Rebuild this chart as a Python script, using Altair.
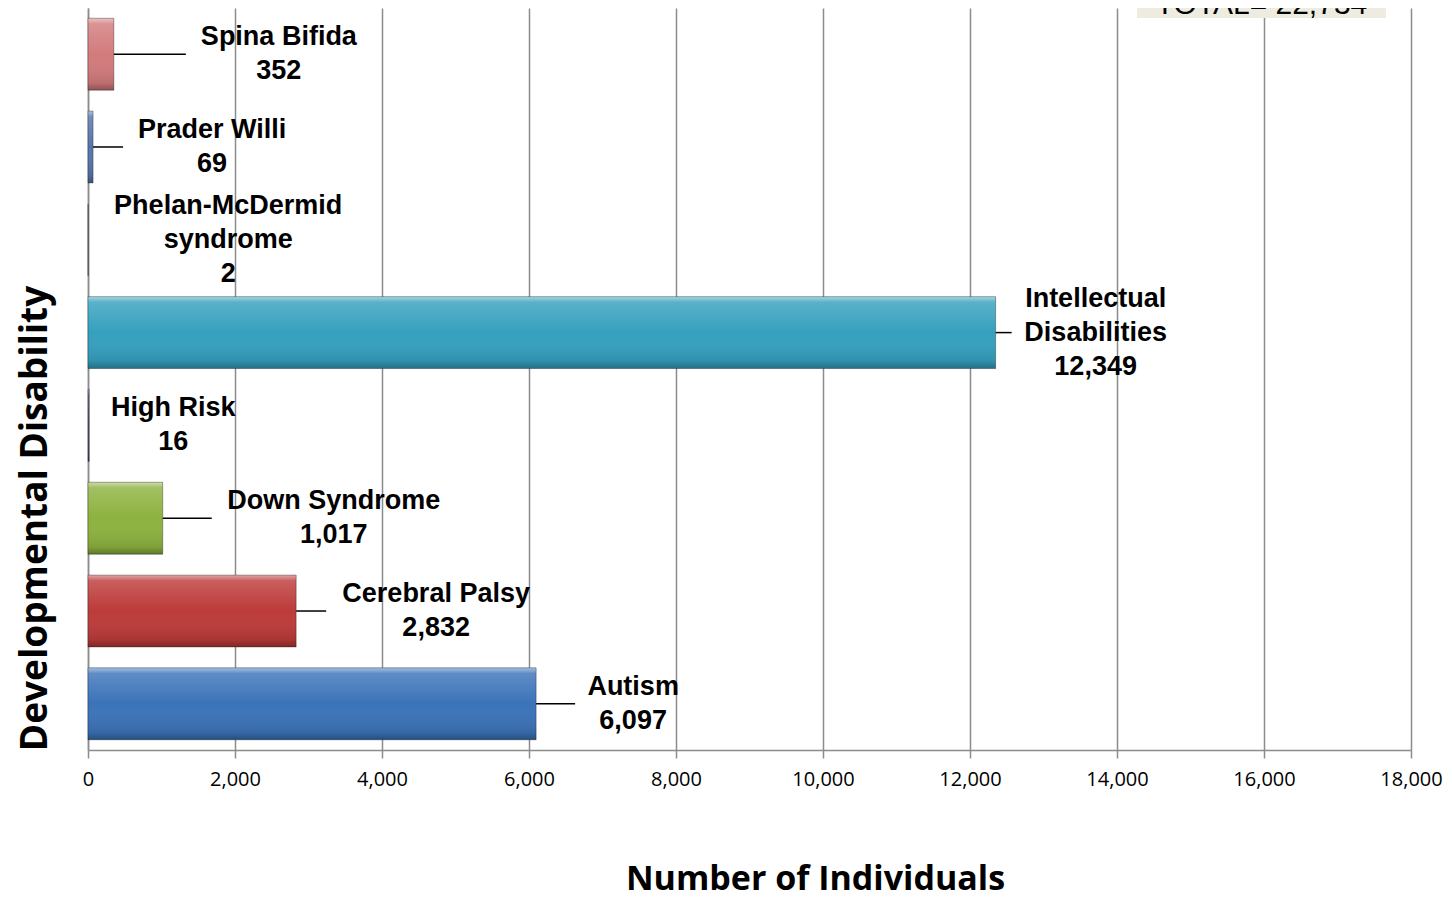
import altair as alt
import pandas as pd

# ---- data ----
categories = ["Autism", "Cerebral Palsy", "Down Syndrome", "High Risk",
              "Intellectual Disabilities", "Phelan-McDermid syndrome",
              "Prader Willi", "Spina Bifida"]
values = [6097, 2832, 1017, 16, 12349, 2, 69, 352]
label_names = ["Autism", "Cerebral Palsy", "Down Syndrome", "High Risk",
               "Intellectual\nDisabilities", "Phelan-McDermid\nsyndrome",
               "Prader Willi", "Spina Bifida"]
bar_colors = ["#3B73B9", "#BC3B39", "#8DB23F", "#5F4A7B",
              "#35A0BE", "#8064A2", "#5676AE", "#D27B7C"]
x_ticks = [0, 2000, 4000, 6000, 8000, 10000, 12000, 14000, 16000, 18000]

# ---- layout ----
W, H = 1323, 742
XMAX = 18000
PX = XMAX / W  # data units per pixel
LH = 34
leader_px = [39, 30, 49, 0, 16, 0, 30, 72]
label_gap_px = [97, 140, 171, 84, 100, 140, 119, 165]

labels_full = [n + "\n" + f"{v:,}" for n, v in zip(label_names, values)]
df = pd.DataFrame({
    "category": categories,
    "value": values,
    "label": labels_full,
    "nlines": [s.count("\n") + 1 for s in labels_full],
    "line_end": [v + l * PX for v, l in zip(values, leader_px)],
    "has_line": [l > 0 for l in leader_px],
    "label_x": [v + g * PX for v, g in zip(values, label_gap_px)],
})

order = list(reversed(categories))

ybase = alt.Y("category:N", sort=order,
              scale=alt.Scale(paddingInner=0.225, paddingOuter=0.11),
              axis=alt.Axis(title="Developmental Disability", labels=False, ticks=False,
                            domain=True, domainColor="#8c8c8c", domainWidth=1.5,
                            titleFont="Open Sans", titleFontSize=37, titleFontWeight="bold",
                            titleColor="black", titleAngle=270, titleX=-53, titleY=510,
                            titleAlign="center", titleBaseline="middle", grid=False))
xbase = alt.X("value:Q", scale=alt.Scale(domain=[0, XMAX], nice=False),
              axis=alt.Axis(values=x_ticks, format=",d", title="Number of Individuals",
                            grid=True, gridColor="#8c8c8c", gridWidth=1.5,
                            domainColor="#8c8c8c", domainWidth=1.5,
                            tickColor="#8c8c8c", tickSize=8, tickWidth=1.5,
                            labelFont="Open Sans", labelFontSize=20, labelColor="black",
                            labelPadding=11, labelFlush=False,
                            titleFont="Open Sans", titleFontSize=34, titleFontWeight="bold",
                            titleColor="black", titleX=727, titleY=129,
                            titleAlign="center", titleBaseline="middle"))

base = alt.Chart(df)

bars = base.mark_bar().encode(
    x=xbase, y=ybase,
    color=alt.Color("category:N", scale=alt.Scale(domain=categories, range=bar_colors), legend=None),
)

shine = base.mark_bar(
    fill=alt.Gradient(gradient="linear", x1=0, y1=0, x2=0, y2=1, stops=[
        alt.GradientStop(offset=0, color="rgba(255,255,255,0.55)"),
        alt.GradientStop(offset=0.08, color="rgba(255,255,255,0.18)"),
        alt.GradientStop(offset=0.5, color="rgba(255,255,255,0.0)"),
        alt.GradientStop(offset=0.9, color="rgba(0,0,0,0.1)"),
        alt.GradientStop(offset=1, color="rgba(0,0,0,0.32)"),
    ]),
    stroke="rgba(0,0,0,0.3)", strokeWidth=1,
).encode(x="value:Q", y=alt.Y("category:N", sort=order))

leaders = base.transform_filter("datum.has_line").mark_rule(color="black", strokeWidth=1.5).encode(
    x="value:Q", x2="line_end:Q", y=alt.Y("category:N", sort=order))

label_layers = []
for n in (2, 3):
    label_layers.append(
        base.transform_filter(f"datum.nlines == {n}").mark_text(
            font="Liberation Sans", fontSize=27, fontWeight="bold", color="black",
            align="center", baseline="middle", lineBreak="\n", lineHeight=LH,
            dy=-(n - 1) * LH / 2).encode(
            x="label_x:Q", y=alt.Y("category:N", sort=order), text="label:N"))

total_df = pd.DataFrame({"t": ["TOTAL= " + f"{sum(values):,}"],
                         "x1": [14272], "x2": [17660], "xc": [15966]})
total_box = alt.Chart(total_df).mark_rect(color="#EEECE1").encode(
    x="x1:Q", x2="x2:Q", y=alt.value(-40), y2=alt.value(10))
total_text = alt.Chart(total_df).mark_text(font="Liberation Sans", fontSize=30, color="black",
                                           align="center", baseline="alphabetic").encode(
    x="xc:Q", y=alt.value(6), text="t:N")

chart = alt.layer(bars, shine, leaders, *label_layers, total_box, total_text).properties(
    width=W, height=H,
    autosize=alt.AutoSizeParams(type="none"),
    padding={"left": 80, "top": 0, "right": 32, "bottom": 148},
    background="white",
).configure_view(stroke=None)

chart.save("out.html", embed_options={"renderer": "svg", "actions": False})
